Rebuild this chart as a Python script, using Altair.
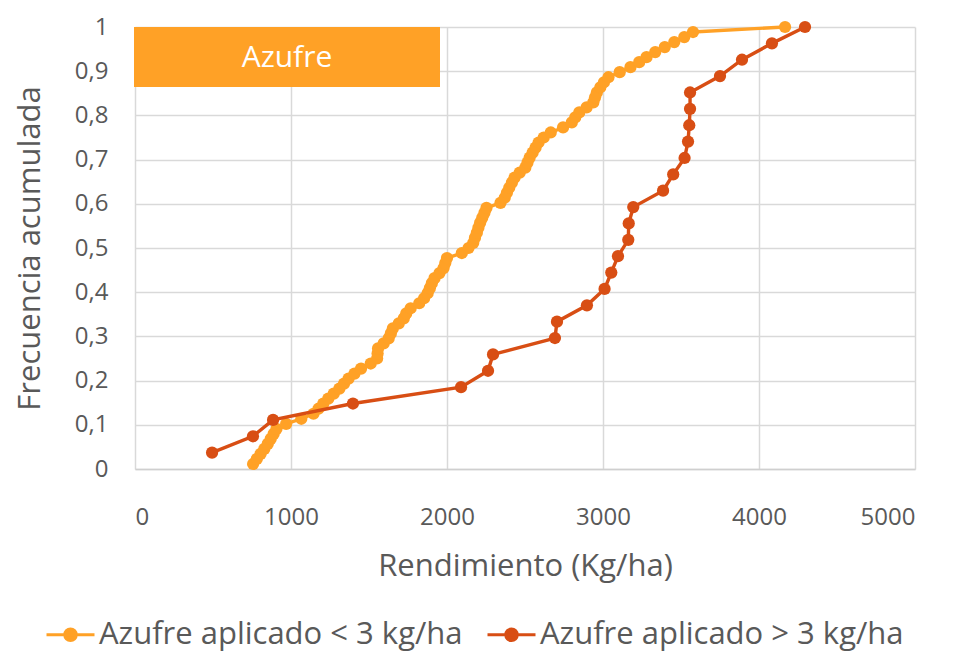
import altair as alt
import pandas as pd

# ---- data ----
series_names = ["Azufre aplicado < 3 kg/ha", "Azufre aplicado > 3 kg/ha"]
series_colors = ["#FFA126", "#D84E14"]

rend_bajo = [757, 781, 805, 829, 851, 870, 889, 907, 969, 1066,
             1144, 1176, 1207, 1239, 1274, 1310, 1340, 1369, 1407, 1449,
             1511, 1552, 1555, 1558, 1594, 1626, 1640, 1653, 1691, 1723,
             1739, 1767, 1822, 1853, 1876, 1890, 1903, 1920, 1952, 1978,
             1989, 2000, 2095, 2138, 2168, 2179, 2191, 2201, 2212, 2226,
             2240, 2253, 2343, 2370, 2384, 2399, 2416, 2433, 2466, 2502,
             2516, 2530, 2549, 2568, 2587, 2620, 2665, 2744, 2800, 2822,
             2848, 2895, 2938, 2949, 2961, 2983, 3006, 3035, 3107, 3176,
             3232, 3279, 3335, 3396, 3457, 3521, 3577, 4167]

rend_alto = [494, 756, 885, 1397, 2090, 2263, 2295, 2692, 2705, 2897,
             3010, 3053, 3096, 3162, 3165, 3194, 3385, 3450, 3523, 3545,
             3553, 3558, 3558, 3750, 3891, 4083, 4295]

x_ticks = [0, 1000, 2000, 3000, 4000, 5000]
y_ticks = [0, 0.1, 0.2, 0.3, 0.4, 0.5, 0.6, 0.7, 0.8, 0.9, 1]
box_label = ["Azufre"]

df = pd.DataFrame({
    "serie": [series_names[0]] * len(rend_bajo) + [series_names[1]] * len(rend_alto),
    "rendimiento": rend_bajo + rend_alto,
})

FONT = "Open Sans"
TXT = "#595959"
GRID = "#D9D9D9"

legend_symbol = ("M-1,0L1,0M-0.24,0A0.24,0.24,0,1,0,0.24,0"
                 "A0.24,0.24,0,1,0,-0.24,0Z")

leg = alt.Legend(
    title=None, orient="none", legendX=-90, legendY=582,
    direction="horizontal", symbolType=legend_symbol, symbolSize=2304,
    symbolStrokeWidth=3, labelFont=FONT, labelFontSize=31, labelLimit=600,
    labelColor=TXT, columnPadding=18, labelOffset=3,
)

x_enc = alt.X(
    "rendimiento:Q",
    scale=alt.Scale(domain=[0, 5000], nice=False),
    axis=alt.Axis(
        values=x_ticks, format="d", title="Rendimiento (Kg/ha)",
        ticks=False, labelPadding=36, grid=True,
        domain=True, domainColor="#CFCFCF", domainWidth=1.5,
        titleBaseline="middle", titleY=97, titleX=390,
    ),
)
y_enc = alt.Y(
    "frec:Q",
    scale=alt.Scale(domain=[0, 1], nice=False),
    axis=alt.Axis(
        values=y_ticks,
        labelExpr="datum.value == 0 ? '0' : (datum.value == 1 ? '1' : replace(format(datum.value, '.1f'), '.', ','))",
        title="Frecuencia acumulada", ticks=False, labelPadding=27,
        domain=False, grid=True,
        titleBaseline="middle", titleX=-105, titleY=221, titleAlign="center",
    ),
)

stroke_enc = alt.Stroke("serie:N", scale=alt.Scale(domain=series_names, range=series_colors), legend=leg)
fill_enc = alt.Fill("serie:N", scale=alt.Scale(domain=series_names, range=series_colors), legend=leg)

base = (
    alt.Chart(df)
    .transform_window(rank="row_number()", groupby=["serie"], sort=[alt.SortField("rendimiento")])
    .transform_joinaggregate(n="count()", groupby=["serie"])
    .transform_calculate(frec="datum.rank / datum.n")
)

layers = []
for s in series_names:
    sub = base.transform_filter(alt.datum.serie == s)
    line = sub.mark_line(strokeWidth=3.4).encode(
        x=x_enc, y=y_enc, stroke=stroke_enc, order=alt.Order("frec:Q"))
    pts = sub.mark_circle(size=150, opacity=1).encode(
        x=x_enc, y=y_enc, fill=fill_enc)
    layers += [line, pts]

box_df = pd.DataFrame({"label": box_label})
box = alt.Chart(box_df).mark_rect(color="#FFA126").encode(
    x=alt.value(-1), x2=alt.value(305), y=alt.value(0), y2=alt.value(60))
box_text = alt.Chart(box_df).mark_text(
    color="white", fontSize=30, font=FONT, align="center", baseline="middle"
).encode(x=alt.value(152), y=alt.value(31), text="label:N")

chart = (
    alt.layer(*layers, box, box_text)
    .properties(
        width=780, height=442,
        autosize=alt.AutoSizeParams(type="none"),
        padding={"left": 127, "top": 19, "right": 31, "bottom": 186},
    )
    .configure_view(strokeWidth=0)
    .configure_axis(
        labelFont=FONT, labelFontSize=24, labelColor=TXT,
        titleFont=FONT, titleFontSize=31, titleColor=TXT, titleFontWeight="normal",
        gridColor=GRID, gridWidth=1.5,
    )
)

chart.save("out.html", embed_options={"renderer": "svg", "actions": False})
